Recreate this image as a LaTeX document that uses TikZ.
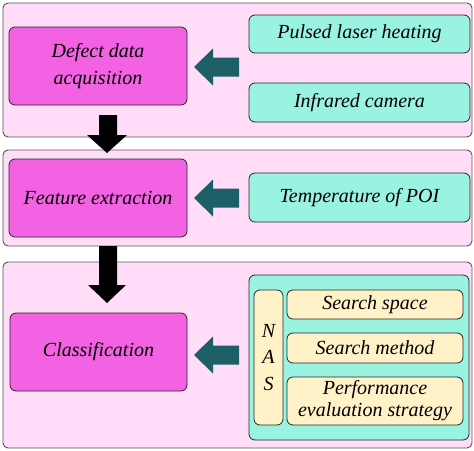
\documentclass[tikz,border=0pt]{standalone}
\usepackage{fontspec}
\setmainfont{Liberation Serif}
\definecolor{panelpink}{HTML}{FFDDF8}
\definecolor{boxmag}{HTML}{F262E2}
\definecolor{boxteal}{HTML}{9AF2E0}
\definecolor{boxyel}{HTML}{FFF2C8}
\definecolor{arrteal}{HTML}{1D5F66}
\definecolor{edgegray}{HTML}{555555}
\tikzset{
  panel/.style={draw=edgegray, fill=panelpink, line width=0.9pt, rounded corners=5pt},
  magbox/.style={draw=black!85, fill=boxmag, line width=0.8pt, rounded corners=6pt, align=center, inner sep=0pt,
     font=\fontsize{20}{27}\selectfont\itshape},
  tealbox/.style={draw=black!85, fill=boxteal, line width=0.8pt, rounded corners=6pt, align=center, inner sep=0pt,
     font=\fontsize{20}{27}\selectfont\itshape},
  yelbox/.style={draw=black!85, fill=boxyel, line width=0.8pt, rounded corners=6pt, align=center, inner sep=0pt,
     font=\fontsize{20}{22}\selectfont\itshape},
  tarrow/.style={fill=arrteal, draw=none},
  barrow/.style={fill=black, draw=none},
}
\begin{document}
\begin{tikzpicture}[x=1pt,y=-1pt]
\useasboundingbox (0,0) rectangle (474,450);
% panels
\draw[panel] (3,3) rectangle (472,137);
\draw[panel] (3,150) rectangle (472,246);
\draw[panel] (3,262) rectangle (472,448);
% panel 1
\node[magbox, minimum width=178pt, minimum height=78pt] (defect) at (98,66) {Defect data\\acquisition};
\node[tealbox, minimum width=221pt, minimum height=38pt] (pulsed) at (359.5,34) {Pulsed laser heating};
\node[tealbox, minimum width=221pt, minimum height=39pt] (infra) at (359.5,102.5) {Infrared camera};
% panel 2
\node[magbox, minimum width=178pt, minimum height=78pt] (feature) at (98,198) {Feature extraction};
\node[tealbox, minimum width=221pt, minimum height=49pt] (temp) at (359.5,197.5) {Temperature of POI};
% panel 3
\node[magbox, minimum width=177pt, minimum height=78pt] (classif) at (98.5,352) {Classification};
\node[tealbox, minimum width=220pt, minimum height=165pt] (nascont) at (359,357.5) {};
\node[yelbox, minimum width=29pt, minimum height=135pt, font=\fontsize{20}{26.5}\selectfont\itshape] (nas) at (268.5,357.5) {N\\A\\S};
\node[yelbox, minimum width=176pt, minimum height=29pt] (sspace) at (375,304.5) {Search space};
\node[yelbox, minimum width=176pt, minimum height=30pt] (smethod) at (375,348) {Search method};
\node[yelbox, minimum width=176pt, minimum height=48pt] (perf) at (375,401) {Performance\\evaluation strategy};
% teal arrows (pointing left)
\foreach \cy in {67,198,355}{
  \fill[tarrow] (194,\cy) -- (213,\cy-18.5) -- (213,\cy-9.5) -- (239,\cy-9.5) -- (239,\cy+9.5) -- (213,\cy+9.5) -- (213,\cy+18.5) -- cycle;
}
% black arrows (pointing down)
\fill[barrow] (99,115) -- (117,115) -- (117,135) -- (127,135) -- (107,153) -- (87,135) -- (99,135) -- cycle;
\fill[barrow] (99,246) -- (117,246) -- (117,285) -- (126,285) -- (107,303) -- (88,285) -- (99,285) -- cycle;
\end{tikzpicture}
\end{document}
